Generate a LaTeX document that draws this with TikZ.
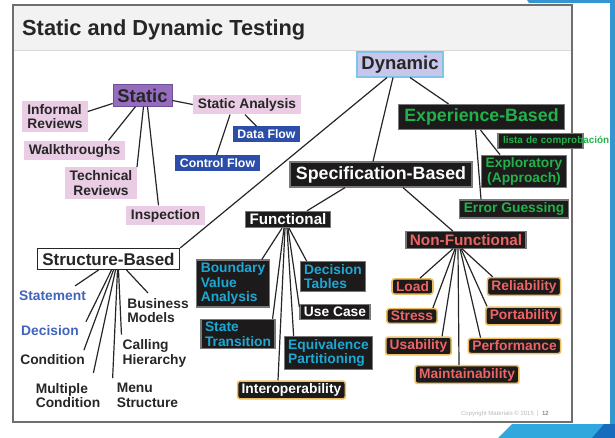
\documentclass[tikz,border=0pt]{standalone}
\usepackage{fontspec}
\setmainfont{Liberation Sans}
\usepackage{tikz}

\definecolor{pinkfill}{RGB}{234,204,228}
\definecolor{staticfill}{RGB}{150,108,190}
\definecolor{staticline}{RGB}{110,80,150}
\definecolor{dynfill}{RGB}{200,198,234}
\definecolor{dynline}{RGB}{130,195,235}
\definecolor{flowblue}{RGB}{44,78,168}
\definecolor{boxblack}{RGB}{28,26,26}
\definecolor{boxgray}{RGB}{120,120,120}
\definecolor{expgreen}{RGB}{34,178,76}
\definecolor{funccyan}{RGB}{28,168,212}
\definecolor{nfred}{RGB}{236,100,100}
\definecolor{goldline}{RGB}{236,190,96}
\definecolor{covblue}{RGB}{64,100,190}
\definecolor{txtdark}{RGB}{38,38,38}
\definecolor{framegray}{RGB}{110,110,110}
\definecolor{bandgray}{RGB}{242,242,242}
\definecolor{themeblue}{RGB}{52,150,208}
\definecolor{themelight}{RGB}{48,168,222}
\definecolor{themedark}{RGB}{24,108,190}

\newcommand{\bfsz}[2]{\fontsize{#1}{#2}\selectfont\bfseries}

\tikzset{
  conn/.style={draw=txtdark, line width=1.2pt},
  lbl/.style={font=\bfsz{13.8}{14.5}, text=txtdark, inner sep=1pt, align=left},
  pinkbox/.style={lbl, fill=pinkfill, inner xsep=5pt, inner ysep=3.5pt},
  flowbox/.style={lbl, font=\bfsz{12.3}{14}, fill=flowblue, text=white, inner xsep=4.5pt, inner ysep=3pt},
  darkbox/.style={lbl, fill=boxblack, draw=boxgray, line width=1.2pt, inner xsep=4pt, inner ysep=2.5pt},
  funcbox/.style={darkbox, text=funccyan},
  goldbox/.style={darkbox, draw=goldline, rounded corners=2.5pt, line width=1.6pt},
  nfbox/.style={goldbox, text=nfred},
  expbox/.style={darkbox, text=expgreen},
  headbox/.style={darkbox, font=\bfsz{17.8}{20}, text=white, inner xsep=6pt, inner ysep=4.2pt}
}

\begin{document}
\begin{tikzpicture}[x=1pt,y=-1pt]
\useasboundingbox (0,0) rectangle (615,438);

% Theme corners
\fill[themeblue] (527,0) -- (615,0) -- (615,424) -- (610,424) -- (610,3) -- (529,3) -- cycle;
\fill[themelight] (498,438) -- (512,424) -- (615,424) -- (615,438) -- cycle;
\fill[themedark] (592,438) -- (604,424) -- (615,424) -- (615,438) -- cycle;

% Slide frame and title band
\fill[bandgray] (13,5) rectangle (572,50);
\draw[gray!30] (13,50) -- (572,50);
\draw[framegray, line width=1.5pt] (13,5) rectangle (572,422);
\node[anchor=base west, font=\bfsz{21.8}{24}, text=txtdark, inner sep=0] (title) at (22,36) {Static and Dynamic Testing};

% Static
\node[lbl, font=\bfsz{18.4}{20}, fill=staticfill, draw=staticline, line width=0.6pt, inner xsep=4.5pt, inner ysep=4pt] (static) at (142.5,95.5) {Static};
\node[pinkbox] (informal) at (55,116.5) {Informal\\Reviews};
\node[pinkbox] (walk) at (74.5,150.5) {Walkthroughs};
\node[pinkbox, align=center] (tech) at (101,183) {Technical\\Reviews};
\node[pinkbox] (insp) at (165.5,215.5) {Inspection};
\node[pinkbox] (sa) at (247,104.5) {Static Analysis};
\node[flowbox] (df) at (266.5,134) {Data Flow};
\node[flowbox] (cf) at (217.5,163) {Control Flow};

% Dynamic
\node[lbl, font=\bfsz{18.5}{20}, fill=dynfill, draw=dynline, line width=1.2pt, inner xsep=4.5pt, inner ysep=3.8pt] (dyn) at (400,64.5) {Dynamic};
\node[headbox, text=expgreen] (exp) at (481.5,117) {Experience-Based};
\node[expbox, font=\bfsz{9.9}{11}, text width=75pt, inner xsep=5pt, inner ysep=2.5pt] (lista) at (540.5,141) {\mbox{lista de comprobación}};
\node[expbox, align=center] (expl) at (524,171.5) {Exploratory\\(Approach)};
\node[expbox] (err) at (514,209) {Error Guessing};
\node[headbox] (spec) at (381,174.5) {Specification-Based};
\node[darkbox, font=\bfsz{15.2}{17}, text=white] (func) at (288,219.5) {Functional};
\node[darkbox, font=\bfsz{15.3}{17}, text=nfred] (nf) at (466,240) {Non-Functional};

% Functional techniques
\node[funcbox] (bva) at (233,283.5) {Boundary\\Value\\Analysis};
\node[funcbox] (st) at (238,334) {State\\Transition};
\node[funcbox] (dt) at (333,276.5) {Decision\\Tables};
\node[darkbox, text=white] (uc) at (335,312) {Use Case};
\node[funcbox] (eq) at (328.5,353) {Equivalence\\Partitioning};
\node[goldbox, text=white] (iop) at (291.5,390) {Interoperability};

% Non-functional techniques
\node[nfbox] (load) at (412.5,286.5) {Load};
\node[nfbox] (stress) at (412,316) {Stress};
\node[nfbox] (usab) at (418.5,346) {Usability};
\node[nfbox] (maint) at (467,374.5) {Maintainability};
\node[nfbox] (rel) at (524,286.5) {Reliability};
\node[nfbox] (port) at (523.5,316) {Portability};
\node[nfbox] (perf) at (514.5,346) {Performance};

% Structure-based
\node[lbl, font=\bfsz{17}{19}, fill=white, draw=txtdark, line width=1.2pt, inner xsep=5pt, inner ysep=4.2pt] (sb) at (108.5,259) {Structure-Based};
\node[lbl, text=covblue] (stmt) at (52.5,296) {Statement};
\node[lbl, text=covblue] (dec) at (50,331) {Decision};
\node[lbl] (cond) at (52.5,359.5) {Condition};
\node[lbl] (mc) at (68,395.5) {Multiple\\Condition};
\node[lbl] (menu) at (147.5,395.5) {Menu\\Structure};
\node[lbl] (call) at (154.5,353.5) {Calling\\Hierarchy};
\node[lbl] (bm) at (158,310.5) {Business\\Models};

% Static links
\draw[conn] ([yshift=-8pt]static.west) -- ([yshift=5pt]informal.east);
\draw[conn] ([xshift=-7pt]static.south) -- ([xshift=34pt]walk.north);
\draw[conn] ([xshift=1pt]static.south) -- ([xshift=36pt]tech.north);
\draw[conn] ([xshift=5pt]static.south) -- ([xshift=-7pt]insp.north);
\draw[conn] ([yshift=-5pt]static.east) -- (sa.west);
\draw[conn] ([xshift=-2pt]sa.south) -- ([xshift=-10pt]df.north);
\draw[conn] ([xshift=-17pt]sa.south) -- ([xshift=-1pt]cf.north);

% Dynamic links
\draw[conn] ([xshift=-13pt]dyn.south) -- (sb.north east);
\draw[conn] ([xshift=-7pt]dyn.south) -- ([xshift=-8pt]spec.north);
\draw[conn] ([xshift=10pt]dyn.south) -- ([xshift=-33pt]exp.north);
\draw[conn] ([xshift=-1pt]exp.south) -- ([xshift=-24pt]expl.north);
\draw[conn] ([xshift=-6pt]exp.south) -- ([xshift=-33pt]err.north);
\draw[conn] ([xshift=-36pt]spec.south) -- ([xshift=19pt]func.north);
\draw[conn] ([xshift=22pt]spec.south) -- ([xshift=-13pt]nf.north);

% Functional fan
\draw[conn] ([xshift=-6pt]func.south) -- ([xshift=-8pt]bva.north east);
\draw[conn] ([xshift=-4pt]func.south) -- ([xshift=-3pt]st.north east);
\draw[conn] ([xshift=-3pt]func.south) -- ([xshift=-13.5pt]iop.north);
\draw[conn] ([xshift=-1pt]func.south) -- ([xshift=10pt]eq.north west);
\draw[conn] (func.south) -- ([yshift=-3pt]uc.north west);
\draw[conn] ([xshift=1pt]func.south) -- ([xshift=7pt]dt.north west);

% Non-functional fan
\draw[conn] ([xshift=-13pt]nf.south) -- ([xshift=7.5pt]load.north);
\draw[conn] ([xshift=-11pt]nf.south) -- ([xshift=-5pt]stress.north east);
\draw[conn] ([xshift=-10pt]nf.south) -- ([xshift=-10pt]usab.north east);
\draw[conn] ([xshift=-8pt]nf.south) -- ([xshift=-8pt]maint.north);
\draw[conn] ([xshift=-6pt]nf.south) -- ([xshift=13pt]perf.north west);
\draw[conn] ([xshift=-5pt]nf.south) -- ([xshift=2pt]port.north west);
\draw[conn] ([xshift=-4pt]nf.south) -- ([xshift=6pt]rel.north west);

% Structure-based fan
\draw[conn] ([xshift=-10pt]sb.south) -- ([shift={(-12pt,4pt)}]stmt.north east);
\draw[conn] ([xshift=3pt]sb.south) -- ([shift={(6pt,3pt)}]dec.north east);
\draw[conn] ([xshift=5pt]sb.south) -- ([shift={(-2pt,3pt)}]cond.north east);
\draw[conn] ([xshift=7pt]sb.south) -- ([shift={(-8pt,9pt)}]mc.north east);
\draw[conn] ([xshift=9pt]sb.south) -- ([shift={(-3pt,4pt)}]menu.north west);
\draw[conn] ([xshift=10pt]sb.south) -- ([yshift=4pt]call.north west);
\draw[conn] ([xshift=18pt]sb.south) -- ([shift={(-10pt,4pt)}]bm.north);

% Footer
\node[font=\fontsize{6}{7}\selectfont, text=gray!55, anchor=base east, inner sep=0] (copy) at (549,415) {Copyright Materials © 2015 \ | \ \textbf{\color{gray!90}12}};

\end{tikzpicture}
\end{document}
